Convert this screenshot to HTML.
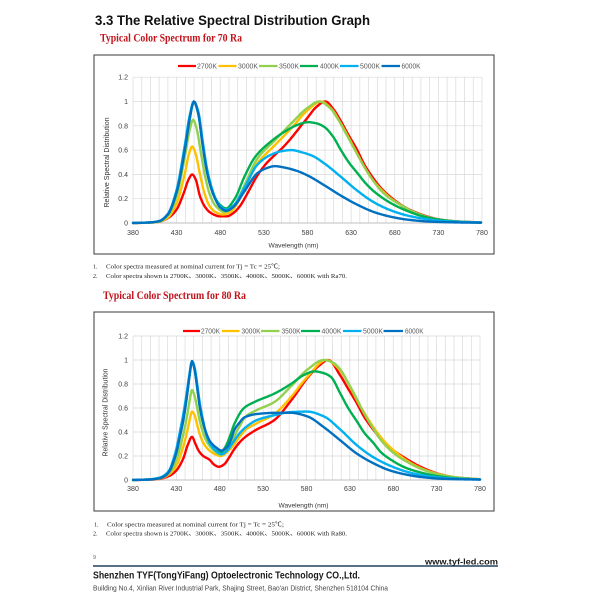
<!DOCTYPE html>
<html>
<head>
<meta charset="utf-8">
<style>
html,body{margin:0;padding:0;background:#fff;}
body{width:600px;height:600px;overflow:hidden;}
svg{display:block;}
</style>
</head>
<body>
<svg id="pg" width="600" height="600" viewBox="0 0 600 600" xmlns="http://www.w3.org/2000/svg" font-family="'Liberation Sans', sans-serif">
<rect width="600" height="600" fill="#fff"/>

<!-- Title -->
<text x="95" y="25" font-size="13.5" font-weight="bold" fill="#111" textLength="275" lengthAdjust="spacingAndGlyphs">3.3 The Relative Spectral Distribution Graph</text>
<text x="100" y="41.7" font-family="'Liberation Serif', serif" font-size="11.5" font-weight="bold" fill="#c0141c" textLength="142" lengthAdjust="spacingAndGlyphs">Typical Color Spectrum for 70 Ra</text>

<!-- Chart 1 frame -->
<rect x="94" y="55" width="400" height="199" fill="#fff" stroke="#3a3a3a" stroke-width="1"/>
<g id="g1"></g>
<g id="k1"></g>
<!-- legend 1 -->
<g font-size="7" fill="#595959">
<line x1="178" y1="66" x2="196" y2="66" stroke="#ff0000" stroke-width="2.2"/><text x="197" y="68.5" textLength="20" lengthAdjust="spacingAndGlyphs">2700K</text>
<line x1="218.5" y1="66" x2="236.5" y2="66" stroke="#ffc000" stroke-width="2.2"/><text x="238" y="68.5" textLength="20" lengthAdjust="spacingAndGlyphs">3000K</text>
<line x1="259" y1="66" x2="277.5" y2="66" stroke="#92d050" stroke-width="2.2"/><text x="279" y="68.5" textLength="20" lengthAdjust="spacingAndGlyphs">3500K</text>
<line x1="300" y1="66" x2="318" y2="66" stroke="#00b050" stroke-width="2.2"/><text x="320" y="68.5" textLength="19" lengthAdjust="spacingAndGlyphs">4000K</text>
<line x1="340" y1="66" x2="358.5" y2="66" stroke="#00b0f0" stroke-width="2.2"/><text x="360" y="68.5" textLength="20" lengthAdjust="spacingAndGlyphs">5000K</text>
<line x1="381.5" y1="66" x2="400" y2="66" stroke="#0070c0" stroke-width="2.2"/><text x="401.5" y="68.5" textLength="19" lengthAdjust="spacingAndGlyphs">6000K</text>
</g>
<!-- y tick labels 1 -->
<g font-size="7" fill="#404040" text-anchor="end">
<text x="128" y="79.7">1.2</text>
<text x="128" y="104">1</text>
<text x="128" y="128.3">0.8</text>
<text x="128" y="152.6">0.6</text>
<text x="128" y="176.9">0.4</text>
<text x="128" y="201.2">0.2</text>
<text x="128" y="225.5">0</text>
</g>
<!-- x tick labels 1 -->
<g font-size="7" fill="#404040" text-anchor="middle">
<text x="133" y="235">380</text>
<text x="176.6" y="235">430</text>
<text x="220.3" y="235">480</text>
<text x="263.9" y="235">530</text>
<text x="307.5" y="235">580</text>
<text x="351.1" y="235">630</text>
<text x="394.8" y="235">680</text>
<text x="438.4" y="235">730</text>
<text x="482" y="235">780</text>
</g>
<text x="293.5" y="247.5" font-size="6.8" fill="#333" text-anchor="middle" textLength="50" lengthAdjust="spacingAndGlyphs">Wavelength (nm)</text>
<text transform="translate(109,162.5) rotate(-90)" font-size="7" fill="#333" text-anchor="middle" textLength="90" lengthAdjust="spacingAndGlyphs">Relative Spectral Distribution</text>

<!-- Notes 1 -->
<g font-family="'Liberation Serif', 'Noto Sans CJK SC', serif" font-size="6" fill="#222">
<text x="93" y="268.5">1.</text>
<text x="106" y="268.5" textLength="174" lengthAdjust="spacingAndGlyphs">Color spectra measured at nominal current for Tj = Tc = 25℃;</text>
<text x="93" y="278">2.</text>
<text x="106" y="278" textLength="241" lengthAdjust="spacingAndGlyphs">Color spectra shown is 2700K、3000K、3500K、4000K、5000K、6000K with Ra70.</text>
</g>

<text x="103" y="299" font-family="'Liberation Serif', serif" font-size="11.5" font-weight="bold" fill="#c0141c" textLength="143" lengthAdjust="spacingAndGlyphs">Typical Color Spectrum for 80 Ra</text>

<!-- Chart 2 frame -->
<rect x="94" y="312" width="400" height="199" fill="#fff" stroke="#3a3a3a" stroke-width="1"/>
<g id="g2"></g>
<g id="k2"></g>
<g font-size="7" fill="#595959">
<line x1="183" y1="331" x2="200" y2="331" stroke="#ff0000" stroke-width="2.2"/><text x="201" y="333.5" textLength="19" lengthAdjust="spacingAndGlyphs">2700K</text>
<line x1="222" y1="331" x2="239.5" y2="331" stroke="#ffc000" stroke-width="2.2"/><text x="241.5" y="333.5" textLength="19" lengthAdjust="spacingAndGlyphs">3000K</text>
<line x1="261" y1="331" x2="279.5" y2="331" stroke="#92d050" stroke-width="2.2"/><text x="281.5" y="333.5" textLength="19" lengthAdjust="spacingAndGlyphs">3500K</text>
<line x1="301" y1="331" x2="320" y2="331" stroke="#00b050" stroke-width="2.2"/><text x="321.5" y="333.5" textLength="20" lengthAdjust="spacingAndGlyphs">4000K</text>
<line x1="343" y1="331" x2="361.5" y2="331" stroke="#00b0f0" stroke-width="2.2"/><text x="363" y="333.5" textLength="20" lengthAdjust="spacingAndGlyphs">5000K</text>
<line x1="383.5" y1="331" x2="403" y2="331" stroke="#0070c0" stroke-width="2.2"/><text x="405" y="333.5" textLength="18.5" lengthAdjust="spacingAndGlyphs">6000K</text>
</g>
<g font-size="7" fill="#404040" text-anchor="end">
<text x="128" y="338.5">1.2</text>
<text x="128" y="362.5">1</text>
<text x="128" y="386.5">0.8</text>
<text x="128" y="410.5">0.6</text>
<text x="128" y="434.5">0.4</text>
<text x="128" y="458.5">0.2</text>
<text x="128" y="482.5">0</text>
</g>
<g font-size="7" fill="#404040" text-anchor="middle">
<text x="133" y="491">380</text>
<text x="176.4" y="491">430</text>
<text x="219.8" y="491">480</text>
<text x="263.1" y="491">530</text>
<text x="306.5" y="491">580</text>
<text x="349.9" y="491">630</text>
<text x="393.3" y="491">680</text>
<text x="436.6" y="491">730</text>
<text x="480" y="491">780</text>
</g>
<text x="303.5" y="507.5" font-size="6.8" fill="#333" text-anchor="middle" textLength="50" lengthAdjust="spacingAndGlyphs">Wavelength (nm)</text>
<text transform="translate(107.5,412.5) rotate(-90)" font-size="7" fill="#333" text-anchor="middle" textLength="88" lengthAdjust="spacingAndGlyphs">Relative Spectral Distribution</text>

<g font-family="'Liberation Serif', 'Noto Sans CJK SC', serif" font-size="6" fill="#222">
<text x="94" y="526.5">1.</text>
<text x="107" y="526.5" textLength="177" lengthAdjust="spacingAndGlyphs">Color spectra measured at nominal current for Tj = Tc = 25℃;</text>
<text x="93" y="535.5">2.</text>
<text x="106" y="535.5" textLength="241" lengthAdjust="spacingAndGlyphs">Color spectra shown is 2700K、3000K、3500K、4000K、5000K、6000K with Ra80.</text>
</g>

<!-- Footer -->
<text x="93" y="559" font-size="5.5" fill="#666">9</text>
<line x1="93" y1="566" x2="498" y2="566" stroke="#24405e" stroke-width="1.6"/>
<text x="425" y="564.3" font-size="8.5" font-weight="bold" fill="#1a1a1a" textLength="73" lengthAdjust="spacingAndGlyphs">www.tyf-led.com</text>
<text x="93" y="578.3" font-size="10.5" font-weight="bold" fill="#1a1a1a" textLength="267" lengthAdjust="spacingAndGlyphs">Shenzhen TYF(TongYiFang) Optoelectronic Technology CO.,Ltd.</text>
<text x="93" y="590.7" font-size="7.3" fill="#444" textLength="295" lengthAdjust="spacingAndGlyphs">Building No.4, Xinlian River Industrial Park, Shajing Street, Bao'an District, Shenzhen 518104 China</text>
</svg>

<script>
(function(){
var NS="http://www.w3.org/2000/svg";
function pchip(pts){
  var n=pts.length,X=[],Y=[],h=[],d=[],m=[],i;
  for(i=0;i<n;i++){X.push(pts[i][0]);Y.push(pts[i][1]);}
  for(i=0;i<n-1;i++){h[i]=X[i+1]-X[i];d[i]=(Y[i+1]-Y[i])/h[i];}
  m[0]=d[0];m[n-1]=d[n-2];
  for(i=1;i<n-1;i++){
    if(d[i-1]*d[i]<=0)m[i]=0;
    else{var w1=2*h[i]+h[i-1],w2=h[i]+2*h[i-1];m[i]=(w1+w2)/(w1/d[i-1]+w2/d[i]);}
  }
  return function(x){
    var k=0;while(k<n-2&&x>X[k+1])k++;
    var t=(x-X[k])/h[k],t2=t*t,t3=t2*t;
    return (2*t3-3*t2+1)*Y[k]+(t3-2*t2+t)*h[k]*m[k]+(-2*t3+3*t2)*Y[k+1]+(t3-t2)*h[k]*m[k+1];
  };
}
var colors=["#ff0000","#ffc000","#92d050","#00b050","#00b0f0","#0070c0"];
var D1=[
[[380,0],[400,0.003],[410,0.01],[420,0.04],[430,0.11],[438,0.24],[444,0.36],[448,0.4],[452,0.36],[457,0.22],[463,0.13],[470,0.08],[480,0.055],[488,0.055],[495,0.08],[503,0.14],[512,0.25],[522,0.38],[532,0.48],[543,0.56],[552,0.62],[562,0.7],[572,0.79],[581,0.87],[590,0.95],[601,1.0],[611,0.93],[618,0.85],[628,0.72],[637,0.61],[646,0.48],[656,0.37],[666,0.28],[675,0.22],[685,0.165],[695,0.12],[705,0.088],[713,0.066],[733,0.028],[755,0.012],[780,0.005]],
[[380,0],[400,0.003],[410,0.01],[420,0.045],[430,0.16],[440,0.42],[444,0.56],[448,0.63],[452,0.57],[457,0.4],[462,0.25],[468,0.14],[475,0.09],[483,0.07],[492,0.09],[502,0.19],[510,0.31],[523,0.49],[543,0.64],[562,0.78],[581,0.93],[596,1.0],[608,0.94],[618,0.83],[628,0.7],[637,0.58],[646,0.46],[656,0.35],[666,0.27],[675,0.21],[685,0.16],[695,0.115],[713,0.06],[733,0.027],[755,0.011],[780,0.004]],
[[380,0],[400,0.004],[410,0.012],[420,0.06],[430,0.22],[440,0.56],[445,0.76],[449,0.85],[453,0.78],[458,0.58],[463,0.38],[468,0.24],[475,0.14],[485,0.09],[495,0.13],[503,0.23],[510,0.34],[523,0.53],[543,0.68],[562,0.82],[581,0.95],[594,1.0],[606,0.95],[616,0.85],[626,0.72],[636,0.59],[646,0.46],[656,0.35],[666,0.26],[676,0.2],[690,0.14],[700,0.1],[715,0.058],[730,0.03],[750,0.013],[780,0.004]],
[[380,0],[400,0.005],[410,0.015],[420,0.07],[430,0.25],[440,0.62],[445,0.85],[450,1.0],[455,0.9],[460,0.65],[465,0.44],[470,0.3],[475,0.2],[480,0.15],[487,0.12],[497,0.2],[508,0.38],[520,0.54],[535,0.65],[554,0.75],[570,0.81],[581,0.83],[591,0.82],[600,0.79],[610,0.71],[619,0.6],[628,0.5],[638,0.41],[647,0.33],[657,0.26],[676,0.165],[695,0.1],[713,0.055],[733,0.027],[755,0.011],[780,0.004]],
[[380,0],[400,0.005],[410,0.016],[420,0.075],[430,0.27],[440,0.66],[445,0.88],[450,1.0],[455,0.92],[460,0.68],[465,0.45],[470,0.3],[475,0.2],[480,0.14],[487,0.11],[495,0.14],[508,0.29],[523,0.48],[538,0.56],[550,0.59],[562,0.6],[575,0.58],[587,0.55],[600,0.49],[619,0.38],[638,0.265],[657,0.17],[676,0.105],[695,0.062],[715,0.034],[740,0.014],[780,0.004]],
[[380,0],[400,0.005],[410,0.015],[420,0.07],[430,0.25],[440,0.62],[445,0.85],[450,1.0],[455,0.9],[460,0.64],[465,0.42],[470,0.28],[475,0.19],[480,0.13],[487,0.1],[495,0.13],[508,0.26],[523,0.41],[533,0.45],[543,0.468],[555,0.455],[568,0.43],[581,0.39],[600,0.31],[619,0.225],[638,0.15],[657,0.09],[676,0.052],[695,0.028],[720,0.012],[750,0.005],[780,0.002]]
];
var D2=[
[[380,0],[400,0.003],[411,0.01],[422,0.035],[430,0.08],[438,0.18],[443,0.29],[448,0.36],[452,0.3],[456,0.24],[461,0.2],[468,0.17],[474,0.125],[479,0.11],[485,0.13],[491,0.19],[497,0.26],[508,0.35],[520,0.41],[543,0.5],[562,0.66],[581,0.85],[594,0.95],[605,1.0],[619,0.87],[628,0.76],[638,0.64],[647,0.52],[657,0.42],[666,0.34],[676,0.27],[692,0.19],[713,0.105],[733,0.05],[752,0.022],[780,0.006]],
[[380,0],[400,0.004],[411,0.012],[422,0.05],[430,0.12],[438,0.28],[442,0.39],[445,0.49],[448,0.57],[451,0.54],[454,0.46],[457,0.38],[461,0.31],[466,0.26],[471,0.23],[476,0.21],[481,0.2],[491,0.25],[503,0.36],[510,0.42],[522,0.47],[543,0.55],[562,0.69],[581,0.86],[603,1.0],[614,0.95],[622,0.88],[632,0.75],[640,0.64],[650,0.52],[660,0.41],[670,0.32],[680,0.25],[695,0.165],[713,0.095],[733,0.048],[755,0.02],[780,0.005]],
[[380,0],[400,0.005],[411,0.015],[422,0.06],[430,0.17],[438,0.38],[442,0.52],[445,0.65],[448,0.75],[451,0.7],[454,0.6],[457,0.49],[461,0.39],[465,0.32],[470,0.27],[476,0.23],[481,0.21],[491,0.29],[503,0.45],[510,0.53],[522,0.58],[543,0.65],[562,0.78],[581,0.92],[600,1.0],[610,0.98],[618,0.93],[628,0.81],[637,0.69],[646,0.56],[656,0.44],[665,0.34],[675,0.26],[685,0.2],[695,0.155],[713,0.09],[733,0.045],[755,0.02],[780,0.005]],
[[380,0],[400,0.006],[411,0.02],[418,0.045],[422.5,0.08],[426,0.14],[430,0.23],[434,0.36],[438,0.5],[442,0.69],[445,0.86],[448,0.99],[451,0.92],[454,0.77],[457,0.61],[461,0.47],[465,0.37],[469,0.3],[475,0.25],[481,0.23],[486,0.27],[491,0.35],[497,0.47],[508,0.6],[520,0.65],[543,0.72],[562,0.8],[577,0.875],[589,0.905],[600,0.89],[608,0.86],[619,0.72],[628,0.6],[638,0.49],[647,0.39],[657,0.31],[666,0.23],[676,0.175],[695,0.1],[713,0.06],[733,0.03],[755,0.013],[780,0.005]],
[[380,0],[400,0.006],[411,0.02],[418,0.05],[422.5,0.09],[426,0.16],[430,0.26],[434,0.4],[438,0.55],[442,0.73],[445,0.88],[448,0.99],[451,0.94],[454,0.8],[457,0.64],[461,0.49],[465,0.37],[469,0.3],[476,0.24],[482,0.215],[488,0.24],[494,0.3],[503,0.39],[510,0.44],[523,0.5],[543,0.54],[560,0.565],[581,0.57],[600,0.53],[619,0.42],[638,0.29],[657,0.19],[676,0.12],[695,0.07],[713,0.04],[740,0.016],[780,0.004]],
[[380,0],[400,0.004],[411,0.015],[418,0.04],[422.5,0.08],[426,0.14],[430,0.23],[434,0.36],[438,0.5],[442,0.69],[445,0.86],[448,0.99],[451,0.92],[454,0.77],[457,0.61],[461,0.47],[465,0.38],[469,0.32],[476,0.27],[482,0.245],[488,0.27],[492,0.32],[497,0.42],[503,0.48],[508,0.52],[523,0.55],[545,0.56],[562,0.56],[581,0.53],[600,0.44],[619,0.33],[638,0.22],[657,0.14],[676,0.08],[695,0.045],[713,0.024],[740,0.009],[780,0.003]]
];
var charts=[
 {x0:133,gx1:482,px1:481,y0:223,sy:121.5,grid:"g1",cur:"k1",data:D1},
 {x0:133,gx1:480,px1:480,y0:480,sy:120,grid:"g2",cur:"k2",data:D2}
];
charts.forEach(function(c){
  var g=document.getElementById(c.grid),i,el;
  var top=c.y0-1.2*c.sy;
  for(i=0;i<=40;i++){
    var x=c.x0+i*(c.gx1-c.x0)/40;
    el=document.createElementNS(NS,"line");
    el.setAttribute("x1",x);el.setAttribute("x2",x);
    el.setAttribute("y1",top);el.setAttribute("y2",c.y0);
    el.setAttribute("stroke","#d9d9d9");el.setAttribute("stroke-width","0.7");
    g.appendChild(el);
  }
  for(i=0;i<=6;i++){
    var y=c.y0-i*0.2*c.sy;
    el=document.createElementNS(NS,"line");
    el.setAttribute("x1",c.x0);el.setAttribute("x2",c.gx1);
    el.setAttribute("y1",y);el.setAttribute("y2",y);
    el.setAttribute("stroke",i===0?"#bfbfbf":"#d9d9d9");el.setAttribute("stroke-width",i===0?"0.9":"0.7");
    g.appendChild(el);
  }
  var k=document.getElementById(c.cur);
  c.data.forEach(function(pts,si){
    var f=pchip(pts),d="";
    for(var l=380;l<=780;l+=1){
      var v=f(l);if(v<0)v=0;
      var x=c.x0+(l-380)*(c.px1-c.x0)/400,y=c.y0-v*c.sy;
      d+=(l===380?"M":"L")+x.toFixed(2)+" "+y.toFixed(2);
    }
    var p=document.createElementNS(NS,"path");
    p.setAttribute("d",d);p.setAttribute("fill","none");
    p.setAttribute("stroke",colors[si]);p.setAttribute("stroke-width","2.4");
    p.setAttribute("stroke-linejoin","round");p.setAttribute("stroke-linecap","round");
    k.appendChild(p);
  });
});
})();
</script>
</body>
</html>
